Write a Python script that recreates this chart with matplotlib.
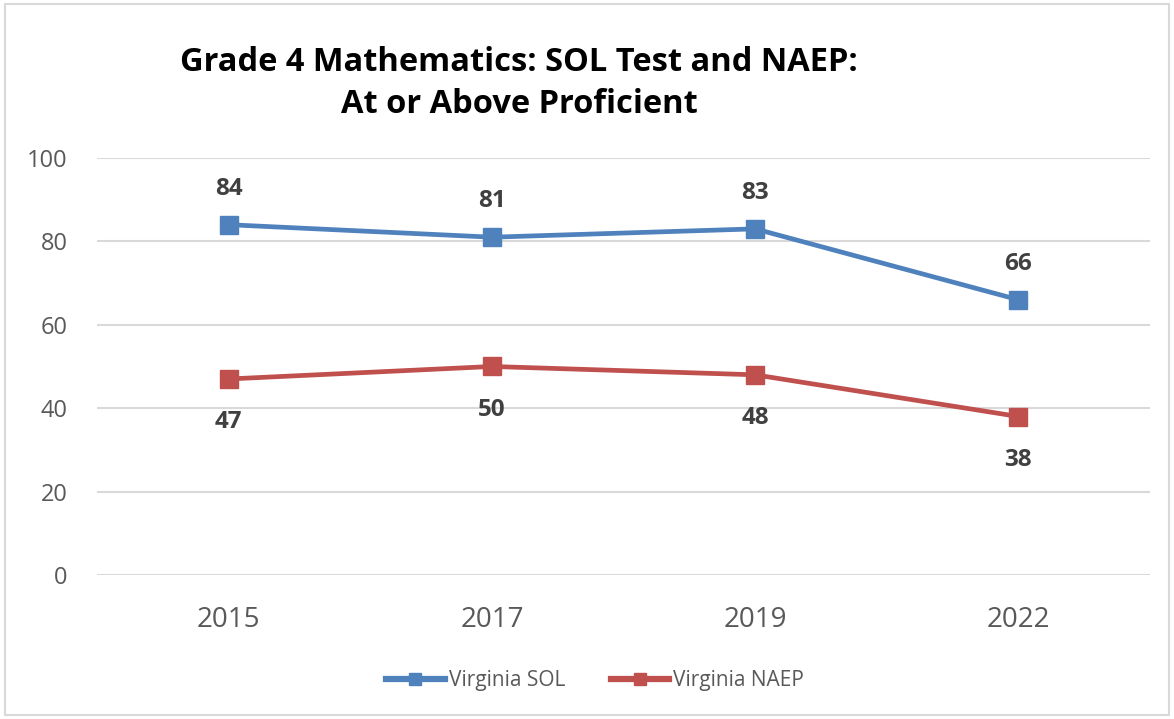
import matplotlib
matplotlib.use("Agg")
import matplotlib.pyplot as plt
from matplotlib.patches import Rectangle

years = ["2015", "2017", "2019", "2022"]
sol = [84, 81, 83, 66]
naep = [47, 50, 48, 38]
y_ticks = [0, 20, 40, 60, 80, 100]

plt.rcParams['font.family'] = ['Open Sans', 'DejaVu Sans']

fig = plt.figure(figsize=(11.74, 7.19), dpi=100)
fig.patches.append(Rectangle((0.004, 0.006), 0.992, 0.988, transform=fig.transFigure,
                             fill=False, edgecolor='#D9D9D9', linewidth=1.5))
ax = fig.add_axes([0.0826, 0.2003, 0.897, 0.58])

x = list(range(len(years)))
blue = '#4F81BD'
red = '#C0504D'
ax.plot(x, sol, color=blue, lw=3.4, marker='s', ms=13, label='Virginia SOL', zorder=3)
ax.plot(x, naep, color=red, lw=3.4, marker='s', ms=13, label='Virginia NAEP', zorder=3)

for xi, v in zip(x, sol):
    ax.annotate(str(v), (xi, v), xytext=(0, 26), textcoords='offset points',
                ha='center', va='center', fontsize=17.5, fontweight='bold', color='#404040')
for xi, v in zip(x, naep):
    ax.annotate(str(v), (xi, v), xytext=(0, -31), textcoords='offset points',
                ha='center', va='center', fontsize=17.5, fontweight='bold', color='#404040')

ax.set_xlim(-0.5, len(years) - 0.5)
ax.set_ylim(0, 100)
ax.set_yticks(y_ticks)
ax.set_xticks(x)
ax.set_xticklabels(years)
ax.grid(axis='y', color='#D9D9D9', lw=1.5)
ax.set_axisbelow(True)
for s in ax.spines.values():
    s.set_visible(False)
ax.tick_params(axis='both', length=0)
ax.tick_params(axis='y', labelsize=17, labelcolor='#595959', pad=21)
ax.tick_params(axis='x', labelsize=20, labelcolor='#595959', pad=22)

fig.text(0.442, 0.884, "Grade 4 Mathematics: SOL Test and NAEP:\nAt or Above Proficient",
         ha='center', va='center', fontsize=23.5, fontweight='bold', color='black',
         linespacing=1.36)

leg = fig.legend(loc='center', bbox_to_anchor=(0.507, 0.053), ncol=2, frameon=False,
                 fontsize=15, handlelength=2.8, columnspacing=2.2, handletextpad=0.2,
                 markerscale=0.7)
for t in leg.get_texts():
    t.set_color('#595959')
for h in leg.legend_handles:
    h.set_linewidth(4.5)

fig.savefig("out.png", dpi=100)
